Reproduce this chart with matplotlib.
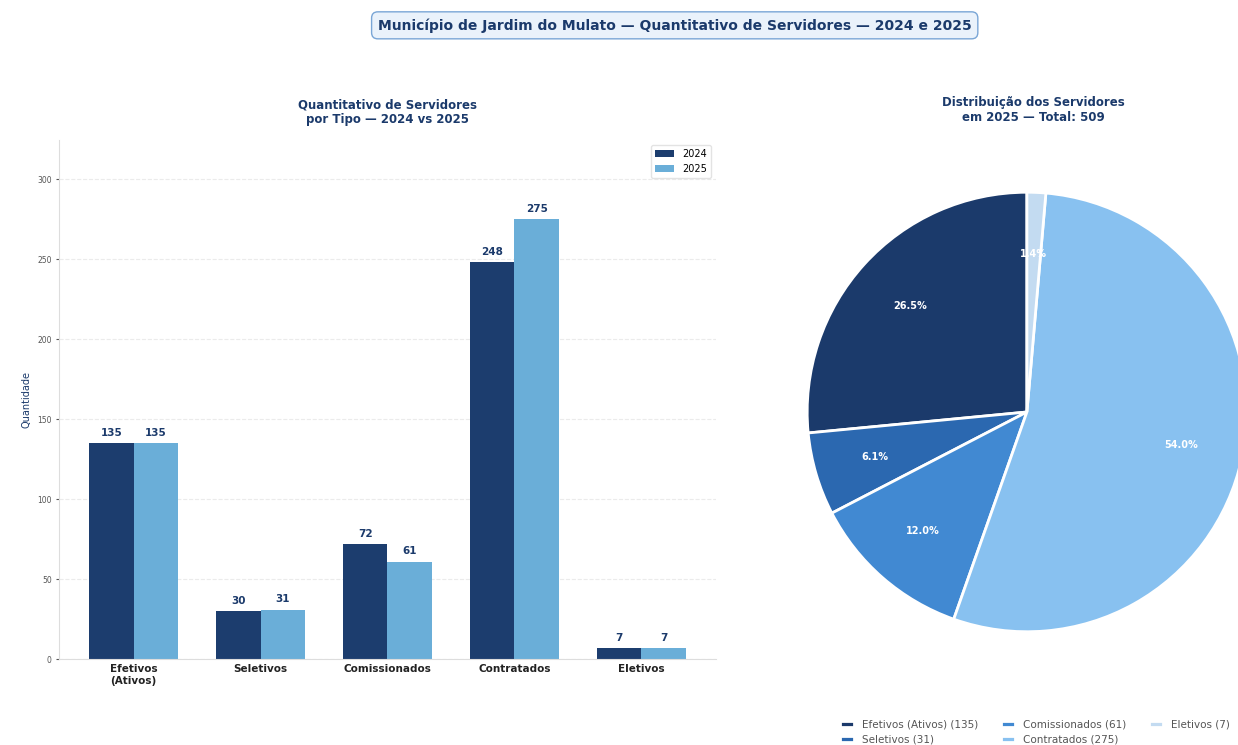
import matplotlib
matplotlib.use("Agg")
import matplotlib.pyplot as plt
import numpy as np

categorias = ["Efetivos\n(Ativos)", "Seletivos", "Comissionados", "Contratados", "Eletivos"]
nomes_pizza = ["Efetivos (Ativos)", "Seletivos", "Comissionados", "Contratados", "Eletivos"]
valores_2024 = [135, 30, 72, 248, 7]
valores_2025 = [135, 31, 61, 275, 7]
anos = ["2024", "2025"]

navy = "#1b3a6b"
cor_2024 = "#1c3d6e"
cor_2025 = "#6aaed8"
cores_pizza = ["#1b3a6b", "#2b68b0", "#4189d2", "#88c1f0", "#c3dbf1"]

fig = plt.figure(figsize=(12.38, 7.45), dpi=100)
fig.patch.set_facecolor("white")

# titulo geral
fig.text(0.545, 0.966, "Município de Jardim do Mulato — Quantitativo de Servidores — 2024 e 2025",
         ha="center", va="center", fontsize=10, fontweight="bold", color=navy,
         bbox=dict(boxstyle="round,pad=0.45", facecolor="#eaf2fb", edgecolor="#7aa6d6", linewidth=1))

# barras
ax = fig.add_axes([0.048, 0.115, 0.53, 0.697])
x = np.arange(len(categorias))
w = 0.35
b1 = ax.bar(x - w / 2, valores_2024, w, color=cor_2024, label=anos[0])
b2 = ax.bar(x + w / 2, valores_2025, w, color=cor_2025, label=anos[1])
for barras in (b1, b2):
    for b in barras:
        ax.annotate(str(int(b.get_height())), (b.get_x() + b.get_width() / 2, b.get_height()),
                    xytext=(0, 4), textcoords="offset points", ha="center", va="bottom",
                    fontsize=7.5, fontweight="bold", color=navy)

ax.set_xticks(x)
ax.set_xticklabels(categorias, fontsize=7.5, fontweight="bold", color="#222222")
ax.set_ylim(0, max(valores_2025) * 1.18)
ax.set_yticks(np.arange(0, 301, 50))
ax.tick_params(axis="y", labelsize=5.5, colors="#555555", length=2)
ax.tick_params(axis="x", length=0)
ax.set_ylabel("Quantidade", fontsize=7, color=navy)
ax.set_title("Quantitativo de Servidores\npor Tipo — 2024 vs 2025", fontsize=8.5,
             fontweight="bold", color=navy, pad=12)
ax.grid(axis="y", linestyle="--", alpha=0.25)
ax.set_axisbelow(True)
for s in ("top", "right"):
    ax.spines[s].set_visible(False)
for s in ("left", "bottom"):
    ax.spines[s].set_color("#dddddd")
ax.legend(loc="upper right", fontsize=7, frameon=True, edgecolor="#dddddd")

# pizza
ax2 = fig.add_axes([0.652, 0.152, 0.355, 0.59])
total = sum(valores_2025)
wedges, textos, autotextos = ax2.pie(
    valores_2025, colors=cores_pizza, startangle=90, autopct="%1.1f%%",
    pctdistance=0.72, wedgeprops=dict(edgecolor="white", linewidth=2),
    textprops=dict(color="white", fontsize=7, fontweight="bold"))
ax2.set_xlim(-1.0, 1.0)
ax2.set_ylim(-1.0, 1.0)
ax2.set_aspect("equal")
fig.text(1033 / 1238, 1 - 110 / 745, "Distribuição dos Servidores\nem 2025 — Total: %d" % total,
         ha="center", va="center", fontsize=8.5, fontweight="bold", color=navy)

rotulos = ["%s (%d)" % (n, v) for n, v in zip(nomes_pizza, valores_2025)]
fig.legend(wedges, rotulos, loc="upper center", bbox_to_anchor=(1035 / 1238, 1 - 710 / 745),
           ncol=3, fontsize=7.5, frameon=False, handlelength=1.3, handleheight=0.55,
           columnspacing=2.2, labelspacing=0.5, labelcolor="#555555")

fig.savefig("out.png", dpi=100)
